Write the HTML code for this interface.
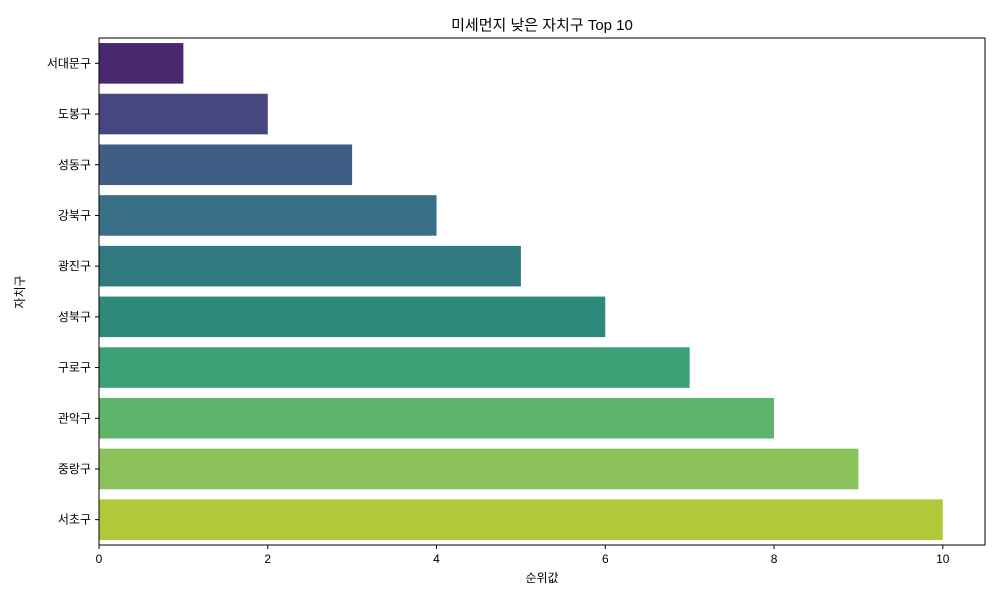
<!DOCTYPE html>
<html><head><meta charset="utf-8">
<style>
body{margin:0;background:#fff;}
svg text{font-family:"Liberation Sans","Noto Sans CJK KR",sans-serif;fill:#000;}
</style></head>
<body>
<svg width="1000" height="600" xmlns="http://www.w3.org/2000/svg" id="chart">
<text x="542" y="30" font-size="15" text-anchor="middle">미세먼지 낮은 자치구 Top 10</text>
<g id="bars"></g>
<rect x="99" y="38" width="886" height="507" fill="none" stroke="#000" stroke-width="1"/>
<g id="xticks"></g>
<g id="yticks"></g>
<text x="542" y="582" font-size="12" text-anchor="middle">순위값</text>
<text x="24" y="292" font-size="12" text-anchor="middle" transform="rotate(-90 24 292)">자치구</text>
</svg>
<script>
const categories=["서대문구","도봉구","성동구","강북구","광진구","성북구","구로구","관악구","중랑구","서초구"];
const values=[1,2,3,4,5,6,7,8,9,10];
const colors=["#48276f","#464782","#405d85","#386f86","#307b7f","#2e8b7b","#3da077","#5fb46b","#8bc35a","#b2c73a"];
const xTicks=[0,2,4,6,8,10];
const L=99,R=985,T=38,B=545,xMax=10.5;
const ns="http://www.w3.org/2000/svg";
const xs=v=>L+(R-L)*v/xMax;
const band=(B-T)/categories.length;
const yc=i=>T+band*(i+0.5);
const bars=document.getElementById('bars'),xt=document.getElementById('xticks'),yt=document.getElementById('yticks');
categories.forEach((c,i)=>{
 const r=document.createElementNS(ns,'rect');
 r.setAttribute('x',xs(0));r.setAttribute('y',yc(i)-band*0.4);
 r.setAttribute('width',xs(values[i])-xs(0));r.setAttribute('height',band*0.8);
 r.setAttribute('fill',colors[i]);
 
 
 bars.appendChild(r);
 const tk=document.createElementNS(ns,'line');
 tk.setAttribute('x1',L-4);tk.setAttribute('x2',L);tk.setAttribute('y1',yc(i));tk.setAttribute('y2',yc(i));tk.setAttribute('stroke','#000');
 
 
 yt.appendChild(tk);
 const t=document.createElementNS(ns,'text');
 t.setAttribute('x',L-8);t.setAttribute('y',yc(i)+4);t.setAttribute('font-size','12');t.setAttribute('text-anchor','end');
 t.textContent=c;
 
 
 yt.appendChild(t);
});
xTicks.forEach(v=>{
 const tk=document.createElementNS(ns,'line');
 tk.setAttribute('x1',xs(v));tk.setAttribute('x2',xs(v));tk.setAttribute('y1',B);tk.setAttribute('y2',B+4);tk.setAttribute('stroke','#000');
 
 
 xt.appendChild(tk);
 const t=document.createElementNS(ns,'text');
 t.setAttribute('x',xs(v));t.setAttribute('y',B+18);t.setAttribute('font-size','12');t.setAttribute('text-anchor','middle');
 t.textContent=v;
 
 
 xt.appendChild(t);
});
</script>
</body></html>
